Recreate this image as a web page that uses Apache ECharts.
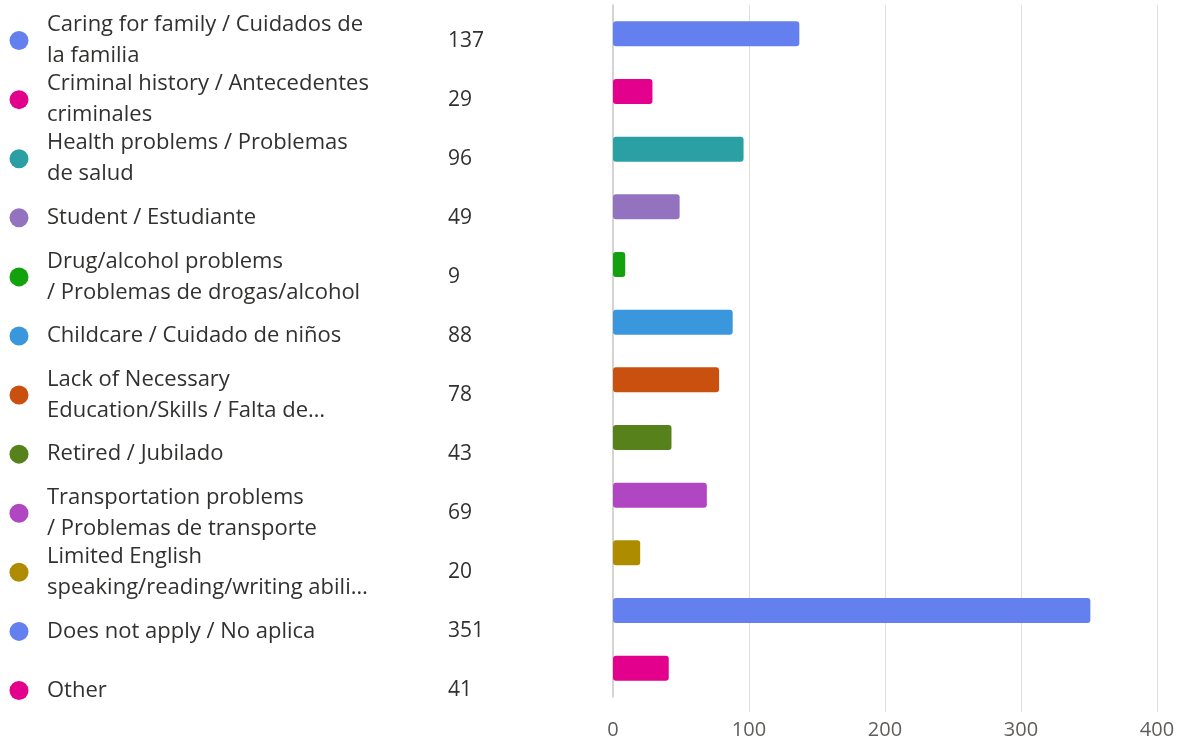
<!DOCTYPE html>
<html><head><meta charset="utf-8">
<script src="https://cdn.jsdelivr.net/npm/echarts@6/dist/echarts.min.js"></script>
<style>html,body{margin:0;padding:0;background:#fff}#c{width:1184px;height:745px}</style>
</head><body><div id="c"></div>
<script>
const categories = [
  "Caring for family / Cuidados de\nla familia",
  "Criminal history / Antecedentes\ncriminales",
  "Health problems / Problemas\nde salud",
  "Student / Estudiante",
  "Drug/alcohol problems\n/ Problemas de drogas/alcohol",
  "Childcare / Cuidado de niños",
  "Lack of Necessary\nEducation/Skills / Falta de…",
  "Retired / Jubilado",
  "Transportation problems\n/ Problemas de transporte",
  "Limited English\nspeaking/reading/writing abili…",
  "Does not apply / No aplica",
  "Other"
];
const values = [137, 29, 96, 49, 9, 88, 78, 43, 69, 20, 351, 41];
const colors = ["#6480ee", "#e3008c", "#2aa0a4", "#9373c0", "#13a10e", "#3a96dd",
                "#ca5010", "#57811b", "#b146c2", "#ae8c00", "#6480ee", "#e3008c"];
const xTicks = [0, 100, 200, 300, 400];

const FONT = '"Open Sans", "Noto Sans", sans-serif';
const chart = echarts.init(document.getElementById('c'), null, {renderer: 'canvas'});
const dotRich = {};
colors.forEach((c, i) => { dotRich['d' + i] = {width: 19, height: 19, borderRadius: 9.5, backgroundColor: c}; });

const labelAxisBase = {
  gridIndex: 2, type: 'category', data: categories, inverse: true, position: 'left',
  axisLine: {show: false, onZero: false}, axisTick: {show: false}, splitLine: {show: false}
};

const option = {
  animation: false,
  backgroundColor: '#ffffff',
  grid: [
    {left: 613, right: 27, top: 5, bottom: 33},
    {left: 613, right: 27, top: 5, bottom: 48},
    {left: 600, right: 100, top: 11, bottom: 25}
  ],
  xAxis: [
    {gridIndex: 0, type: 'value', min: xTicks[0], max: xTicks[xTicks.length - 1], interval: 100,
     axisLine: {show: false}, axisTick: {show: false},
     splitLine: {show: true, lineStyle: {color: ['rgba(0,0,0,0)', '#e1dfdd', '#e1dfdd', '#e1dfdd', '#e1dfdd'], width: 1}},
     axisLabel: {color: '#605e5c', fontSize: 20, fontFamily: FONT, margin: 8}},
    {gridIndex: 1, type: 'value', min: xTicks[0], max: xTicks[xTicks.length - 1], interval: 100, show: false},
    {gridIndex: 2, type: 'value', min: 0, max: 1, show: false}
  ],
  yAxis: [
    {gridIndex: 0, type: 'category', data: categories, inverse: true, show: false},
    {gridIndex: 1, type: 'category', data: categories, inverse: true,
     axisLine: {show: true, onZero: false, lineStyle: {color: '#c8c6c4', width: 1.5}},
     axisTick: {show: false}, axisLabel: {show: false}, splitLine: {show: false}},
    Object.assign({}, labelAxisBase, {
      axisLabel: {interval: 0, align: 'left', margin: 590.5, formatter: (v, i) => '{d' + i + '|}', rich: dotRich}
    }),
    Object.assign({}, labelAxisBase, {
      axisLabel: {interval: 0, align: 'left', margin: 553, color: '#323130', fontSize: 22, lineHeight: 31, fontFamily: FONT}
    }),
    Object.assign({}, labelAxisBase, {
      axisLabel: {interval: 0, align: 'left', margin: 152, color: '#323130', fontSize: 21, fontFamily: FONT,
                  formatter: (v, i) => String(values[i])}
    })
  ],
  series: [{
    type: 'bar', xAxisIndex: 1, yAxisIndex: 1, barWidth: 25,
    itemStyle: {borderRadius: 3},
    data: values.map((v, i) => ({value: v, itemStyle: {color: colors[i]}}))
  }]
};
chart.setOption(option);
</script>
</body></html>
